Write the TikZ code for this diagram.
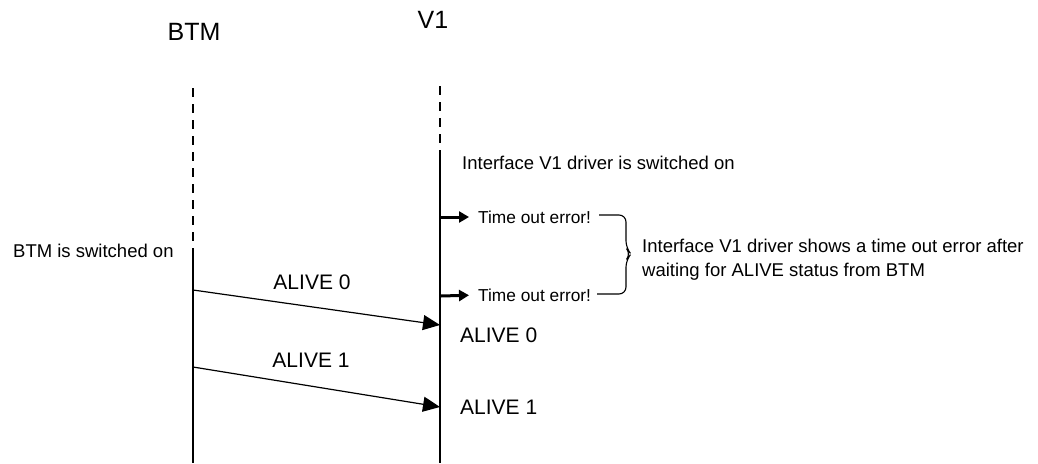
\documentclass[tikz,border=0pt]{standalone}
\usepackage{fontspec}
\setmainfont{Liberation Sans}
\usetikzlibrary{arrows.meta}
\tikzset{
  txt/.style={inner sep=0pt, font=\fontsize{18.5}{24}\selectfont},
  smalltxt/.style={inner sep=0pt, font=\fontsize{17.3}{20}\selectfont},
  big/.style={inner sep=0pt, font=\fontsize{21}{24}\selectfont},
  head/.style={inner sep=0pt, font=\fontsize{25}{28}\selectfont},
  life/.style={line width=1.3pt},
  lifedash/.style={line width=1.3pt, dash pattern=on 9pt off 7pt},
  msg/.style={line width=1.2pt, -{Triangle[length=17pt,width=15pt]}},
  tout/.style={line width=3pt, shorten >=9pt, -{Triangle[length=10pt,width=11pt]}},
}
\begin{document}
\begin{tikzpicture}[x=1pt,y=-1pt]
\useasboundingbox (0,0) rectangle (1038,463);
% headers
\node[head] (btm) at (194,32) {BTM};
\node[head] (v1) at (433,20) {V1};
% lifeline coordinates
\coordinate (b0) at (193,88);
\coordinate (b1) at (193,250);
\coordinate (b2) at (193,463);
\coordinate (v0) at (440,86);
\coordinate (vs) at (440,158);
\coordinate (v2) at (440,463);
\draw[lifedash] (b0) -- (b1);
\draw[life] (b1) -- (b2);
\draw[lifedash] (v0) -- (vs);
\draw[life] (vs) -- (v2);
% texts
\node[txt, anchor=west] (ion) at (462,163) {Interface V1 driver is switched on};
\node[txt, anchor=west] (bon) at (13,251) {BTM is switched on};
\node[smalltxt, anchor=west] (to1) at (478,217) {Time out error!};
\node[smalltxt, anchor=west] (to2) at (478,295) {Time out error!};
\node[txt, anchor=west, align=left] (expl) at (642,260) {Interface V1 driver shows a time out error after\\waiting for ALIVE status from BTM};
% timeout arrows
\coordinate (t1s) at (441,217);
\coordinate (t2s) at (441,296);
\draw[tout] (t1s) -- (to1.west);
\draw[tout] (t2s) -- (to2.west);
% brace
\coordinate (br1) at (599,215);
\coordinate (br2) at (597,294);
\draw[line width=1.1pt, rounded corners=7pt] (br1) -- (626,215) -- (626,248) -- (631,254) -- (626,260) -- (626,294) -- (br2);
% messages
\coordinate (m1s) at (193,290);
\coordinate (m1e) at (440,325);
\coordinate (m2s) at (193,367);
\coordinate (m2e) at (440,407);
\draw[msg] (m1s) -- (m1e);
\draw[msg] (m2s) -- (m2e);
\node[big] (a0l) at (312,282) {ALIVE 0};
\node[big] (a1l) at (311,360) {ALIVE 1};
\node[big, anchor=west] (a0r) at (460,335) {ALIVE 0};
\node[big, anchor=west] (a1r) at (460,407) {ALIVE 1};
\end{tikzpicture}
\end{document}
